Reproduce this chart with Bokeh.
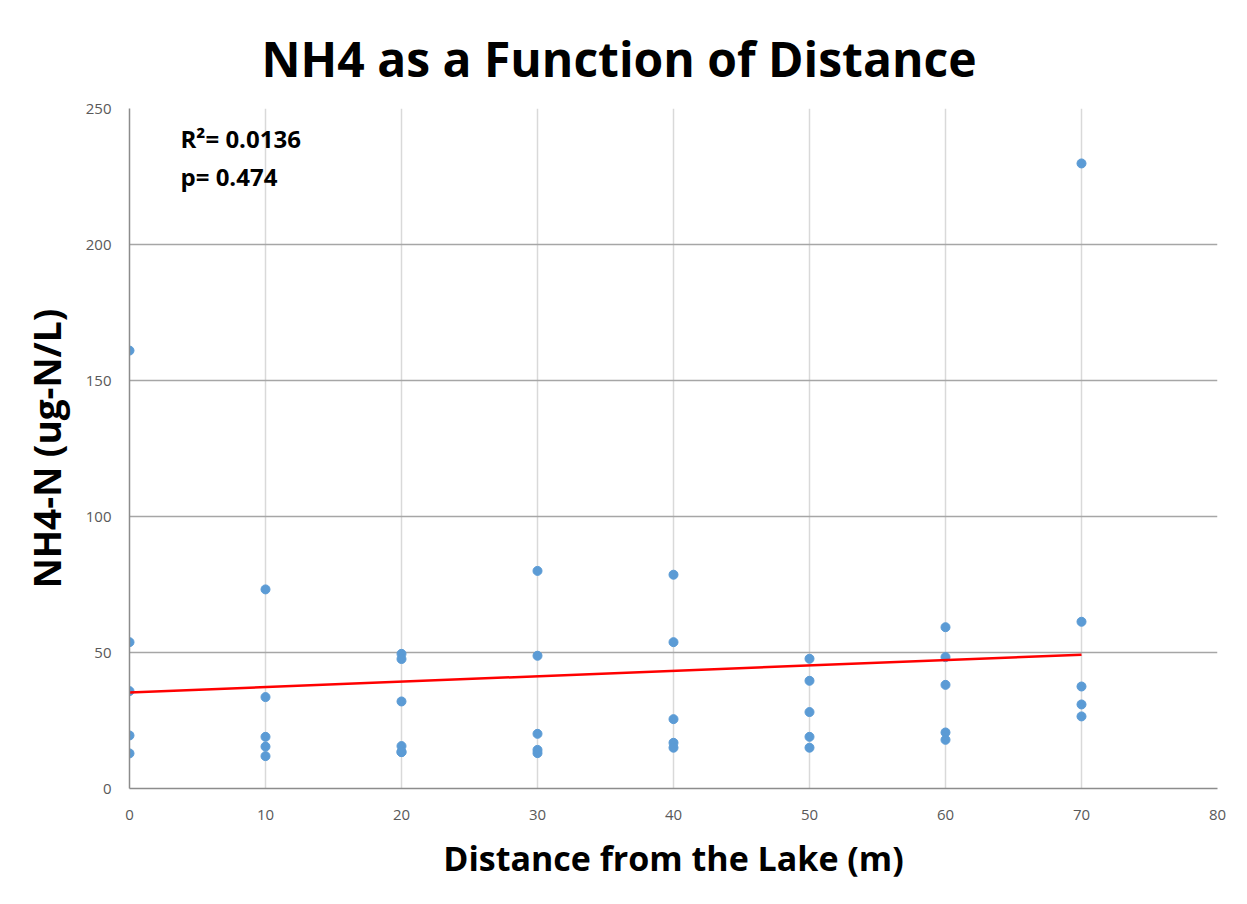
from bokeh.plotting import figure
from bokeh.models import ColumnDataSource, FixedTicker, Label, Range1d
from bokeh.embed import file_html
from bokeh.resources import INLINE

# Data
distance = [0, 0, 0, 0, 0,
            10, 10, 10, 10, 10,
            20, 20, 20, 20, 20, 20,
            30, 30, 30, 30, 30,
            40, 40, 40, 40, 40,
            50, 50, 50, 50, 50,
            60, 60, 60, 60, 60,
            70, 70, 70, 70, 70]
nh4 = [161, 53.8, 35.8, 19.5, 12.9,
       73.2, 33.6, 19.0, 15.4, 11.9,
       49.5, 47.6, 32.0, 15.6, 13.4, 13.4,
       80.0, 48.8, 20.1, 14.2, 13.0,
       78.6, 53.8, 25.5, 16.8, 15.0,
       47.7, 39.6, 28.1, 19.0, 15.0,
       59.3, 48.3, 38.1, 20.6, 17.9,
       229.8, 61.3, 37.5, 30.9, 26.5]
trend_x = [0, 70]
trend_y = [35.3, 49.2]
x_ticks = [0, 10, 20, 30, 40, 50, 60, 70, 80]
y_ticks = [0, 50, 100, 150, 200, 250]
title_text = "NH4 as a Function of Distance"
x_label = "Distance from the Lake (m)"
y_label = "NH4-N (ug-N/L)"
stats = ["R\u00b2= 0.0136", "p= 0.474"]

FONT = "Open Sans"

p = figure(width=1231, height=888, output_backend="svg", toolbar_location=None,
           x_range=Range1d(0, 80), y_range=Range1d(0, 250),
           min_border_left=129, min_border_right=14, min_border_top=108,
           min_border_bottom=100)

p.title.text = title_text
p.title.align = "left"
p.title.offset = 132
p.title.text_font = FONT
p.title.text_font_style = "bold"
p.title.text_font_size = "48px"
p.title.text_color = "black"
p.title.text_line_height = 0.7
p.title.standoff = 36

p.outline_line_color = None
p.background_fill_color = "white"
p.border_fill_color = "white"

p.xaxis.ticker = FixedTicker(ticks=x_ticks)
p.yaxis.ticker = FixedTicker(ticks=y_ticks)
p.xgrid.ticker = FixedTicker(ticks=x_ticks)
p.ygrid.ticker = FixedTicker(ticks=y_ticks)

for ax in (p.xaxis, p.yaxis):
    ax.major_tick_line_color = None
    ax.minor_tick_line_color = None
    ax.axis_line_color = "#8c8c8c"
    ax.axis_line_width = 1.5
    ax.major_label_text_font = FONT
    ax.major_label_text_font_size = "15px"
    ax.major_label_text_color = "#595959"
    ax.axis_label_text_font = FONT
    ax.axis_label_text_font_style = "bold"
    ax.axis_label_text_color = "black"

p.xaxis.axis_label_text_font_size = "34px"
p.yaxis.axis_label_text_font_size = "37px"
p.xaxis.axis_label = x_label
p.yaxis.axis_label = y_label
p.xaxis.major_label_standoff = 15
p.yaxis.major_label_standoff = 12
p.xaxis.axis_label_standoff = 12
p.yaxis.axis_label_standoff = 11

p.xgrid.grid_line_color = "#d9d9d9"
p.xgrid.grid_line_width = 1.5
p.ygrid.grid_line_color = "#a6a6a6"
p.ygrid.grid_line_width = 1.5

src = ColumnDataSource(dict(x=distance, y=nh4))
p.scatter("x", "y", source=src, size=9, fill_color="#5b9bd5", line_color="#5b9bd5")
p.line(trend_x, trend_y, line_color="#ff0000", line_width=2.5)

for i, s in enumerate(stats):
    p.add_layout(Label(x=51, y=650 - i * 38, x_units="screen", y_units="screen",
                       text=s, text_font=FONT, text_font_style="bold",
                       text_font_size="24px", text_color="black",
                       text_baseline="middle"))

open("out.html", "w").write(file_html(p, INLINE))
